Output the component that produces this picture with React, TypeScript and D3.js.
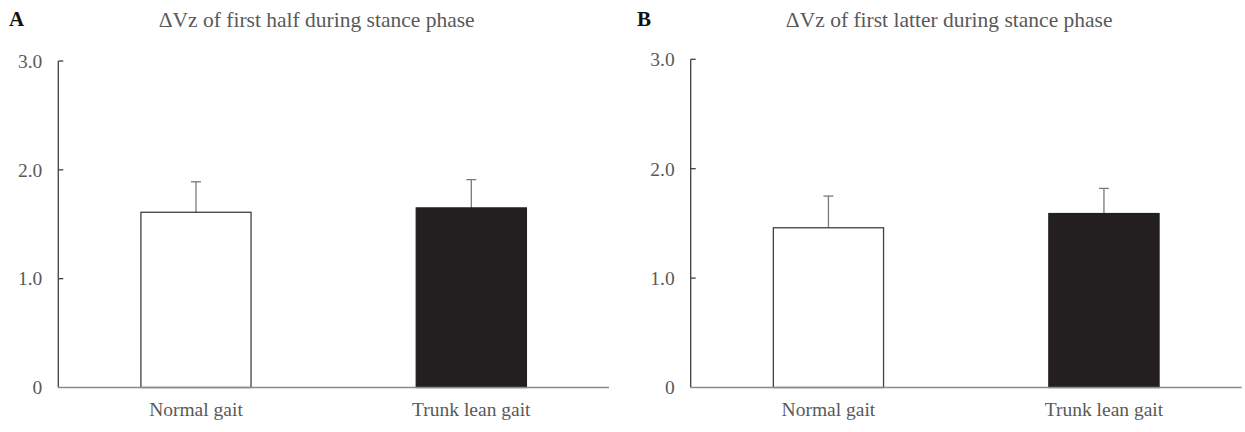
import React, { useEffect } from "react";
import * as d3 from "d3";

// data
const categories = ["Normal gait", "Trunk lean gait"];
const firstHalfMean = [1.61, 1.65];
const firstHalfSd = [0.28, 0.26];
const latterMean = [1.46, 1.59];
const latterSd = [0.29, 0.23];
const yTicks = [0, 1, 2, 3];
const panelLetters = ["A", "B"];
const panelTitles = [
  "\u0394Vz of first half during stance phase",
  "\u0394Vz of first latter during stance phase",
];

const W = 1245;
const H = 432;
const FONT = "'Liberation Serif', 'Times New Roman', serif";
const TEXT = "#595959";

const Panel = ({ x0, x1, top, letter, letterX, title, means, sds }) => {
  const bottom = 387.5;
  const y = d3.scaleLinear().domain([0, 3]).range([bottom, top]);
  const x = d3.scaleBand().domain(categories).range([x0, x1]).paddingInner(0.6).paddingOuter(0.3);
  const fills = ["#ffffff", "#231f20"];
  // title sits a little left of the plot centre
  const cx = (x0 + x1) / 2 - 17;

  return (
    <g>
      <text x={letterX} y={26} fontFamily={FONT} fontWeight="bold" fontSize={21} fill="#111">
        {letter}
      </text>
      <text x={cx} y={27} fontFamily={FONT} fontSize={21.5} fill={TEXT} textAnchor="middle">
        {title}
      </text>

      {/* y axis */}
      <line x1={x0} x2={x0} y1={y(3)} y2={bottom} stroke="#404040" strokeWidth={1.3} />
      {yTicks.map((t) => (
        <g key={t}>
          {t > 0 && <line x1={x0} x2={x0 + 5} y1={y(t)} y2={y(t)} stroke="#404040" strokeWidth={1.3} />}
          <text
            x={x0 - 16}
            y={y(t)}
            dy="0.35em"
            textAnchor="end"
            fontFamily={FONT}
            fontSize={19.5}
            fill={TEXT}
          >
            {t === 0 ? "0" : d3.format(".1f")(t)}
          </text>
        </g>
      ))}

      {/* error bars (upper only) */}
      {categories.map((c, i) => {
        const mx = x(c) + x.bandwidth() / 2;
        return (
          <g key={"e" + c} stroke="#7a7a7a" strokeWidth={1.3}>
            <line x1={mx} x2={mx} y1={y(means[i])} y2={y(means[i] + sds[i])} />
            <line x1={mx - 5} x2={mx + 5} y1={y(means[i] + sds[i])} y2={y(means[i] + sds[i])} />
          </g>
        );
      })}

      {/* bars */}
      {categories.map((c, i) => (
        <rect
          key={c}
          x={x(c)}
          y={y(means[i])}
          width={x.bandwidth()}
          height={bottom - y(means[i])}
          fill={fills[i]}
          stroke={i === 0 ? "#404040" : "#231f20"}
          strokeWidth={1.3}
        />
      ))}

      {/* x axis */}
      <line x1={x0} x2={x1} y1={bottom} y2={bottom} stroke="#8a8a8a" strokeWidth={1.5} />
      {categories.map((c) => (
        <text
          key={"l" + c}
          x={x(c) + x.bandwidth() / 2}
          y={416}
          textAnchor="middle"
          fontFamily={FONT}
          fontSize={19.5}
          fill={TEXT}
        >
          {c}
        </text>
      ))}
    </g>
  );
};

export default function App() {
  useEffect(() => {
    document.body.style.margin = "0";
  }, []);

  return (
    <svg width={W} height={H} style={{ display: "block", background: "#fff" }}>
      <Panel
        x0={58.3}
        x1={609}
        top={61}
        letter={panelLetters[0]}
        letterX={9}
        title={panelTitles[0]}
        means={firstHalfMean}
        sds={firstHalfSd}
      />
      <Panel
        x0={690.7}
        x1={1241.7}
        top={59.3}
        letter={panelLetters[1]}
        letterX={637}
        title={panelTitles[1]}
        means={latterMean}
        sds={latterSd}
      />
    </svg>
  );
}
